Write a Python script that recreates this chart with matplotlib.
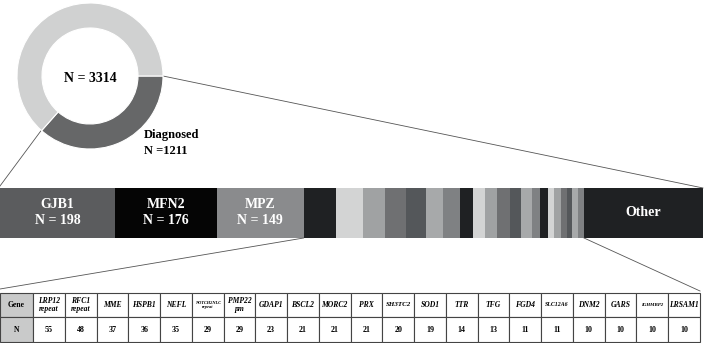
import matplotlib.pyplot as plt
from matplotlib.patches import Rectangle

plt.rcParams["font.family"] = ["Liberation Serif", "DejaVu Serif"]

total_n = 3314
diagnosed_n = 1211

top_genes = ["GJB1", "MFN2", "MPZ"]
top_counts = [198, 176, 149]
top_colors = ["#5b5c5e", "#050505", "#8a8b8d"]

genes = ["LRP12\nrepeat", "RFC1\nrepeat", "MME", "HSPB1", "NEFL", "NOTCH2NLC\nrepeat",
         "PMP22\npm", "GDAP1", "BSCL2", "MORC2", "PRX", "SH3TC2", "SOD1", "TTR", "TFG",
         "FGD4", "SLC12A6", "DNM2", "GARS", "IGHMBP2", "LRSAM1"]
gene_counts = [55, 48, 37, 36, 35, 29, 29, 23, 21, 21, 21, 20, 19, 14, 13, 11, 11, 10, 10, 10, 10]
other_count = diagnosed_n - sum(top_counts) - sum(gene_counts)

cycle = ["#1f2123", "#d3d4d4", "#a0a2a3", "#6f7072", "#54575a", "#a7a9aa", "#7f8183"]

W, H = 709, 343
fig = plt.figure(figsize=(W / 100, H / 100), dpi=100)
ax = fig.add_axes([0, 0, 1, 1])
ax.set_xlim(0, W)
ax.set_ylim(H, 0)
ax.axis("off")

# donut
cx, cy, r = 90, 76, 73
dax = fig.add_axes([(cx - r) / W, (H - cy - r) / H, 2 * r / W, 2 * r / H])
dax.pie([diagnosed_n, total_n - diagnosed_n], colors=["#666768", "#d0d1d1"],
        startangle=0, counterclock=False, radius=1,
        wedgeprops=dict(width=25 / 73, edgecolor="white", linewidth=0.8))
dax.set_xlim(-1, 1)
dax.set_ylim(-1, 1)
dax.text(0, -0.03, f"N = {total_n}", ha="center", va="center", fontsize=10, fontweight="bold")
ax.text(144, 143, f"Diagnosed\nN ={diagnosed_n}", ha="left", va="center", fontsize=9,
        fontweight="bold", linespacing=1.35)

# stacked bar
bar_x0, bar_x1, bar_y0, bar_y1 = 0, 703, 188, 238
scale = (bar_x1 - bar_x0) / diagnosed_n
x = bar_x0
for g, c, col in zip(top_genes, top_counts, top_colors):
    ax.add_patch(Rectangle((x, bar_y0), c * scale, bar_y1 - bar_y0, color=col, lw=0))
    ax.text(x + c * scale / 2, (bar_y0 + bar_y1) / 2, f"{g}\nN = {c}", ha="center",
            va="center", color="white", fontsize=10, fontweight="bold", linespacing=1.3)
    x += c * scale
zoom_start = x
for i, c in enumerate(gene_counts):
    ax.add_patch(Rectangle((x, bar_y0), c * scale, bar_y1 - bar_y0,
                           color=cycle[i % len(cycle)], lw=0))
    x += c * scale
zoom_end = x
ax.add_patch(Rectangle((x, bar_y0), other_count * scale, bar_y1 - bar_y0, color=cycle[0], lw=0))
ax.text(x + other_count * scale / 2, (bar_y0 + bar_y1) / 2, "Other", ha="center",
        va="center", color="white", fontsize=10, fontweight="bold")

# connector lines
lc = "#555555"
ax.plot([cx + r, bar_x1], [cy, bar_y0], color=lc, lw=0.6)
ax.plot([43, 0], [128, bar_y0 - 2], color=lc, lw=0.6)

# table
t_x0, t_x1, t_y0, t_ym, t_y1 = 0, 700, 293, 317, 342
gene_w = 33
col_w = (t_x1 - t_x0 - gene_w) / len(genes)
ax.plot([zoom_start, t_x0], [bar_y1, t_y0 - 4], color=lc, lw=0.6)
ax.plot([zoom_end, t_x1], [bar_y1, t_y0 - 2], color=lc, lw=0.6)

for row_y0, row_y1, label in [(t_y0, t_ym, "Gene"), (t_ym, t_y1, "N")]:
    ax.add_patch(Rectangle((t_x0, row_y0), gene_w, row_y1 - row_y0, facecolor="#c9caca",
                           edgecolor="#444444", lw=0.8))
    ax.text(t_x0 + gene_w / 2, (row_y0 + row_y1) / 2, label, ha="center", va="center",
            fontsize=5.5, fontweight="bold")

small = {"NOTCH2NLC\nrepeat": 3.2, "IGHMBP2": 3.5, "SLC12A6": 4.2, "SH3TC2": 5}
for i, (g, c) in enumerate(zip(genes, gene_counts)):
    x0 = t_x0 + gene_w + i * col_w
    for row_y0, row_y1 in [(t_y0, t_ym), (t_ym, t_y1)]:
        ax.add_patch(Rectangle((x0, row_y0), col_w, row_y1 - row_y0, facecolor="white",
                               edgecolor="#444444", lw=0.8))
    ax.text(x0 + col_w / 2, (t_y0 + t_ym) / 2, g, ha="center", va="center",
            fontsize=small.get(g, 5.5), fontweight="bold", fontstyle="italic", linespacing=1.1)
    ax.text(x0 + col_w / 2, (t_ym + t_y1) / 2, str(c), ha="center", va="center",
            fontsize=5.8, fontweight="bold")

fig.savefig("out.png", dpi=100)
